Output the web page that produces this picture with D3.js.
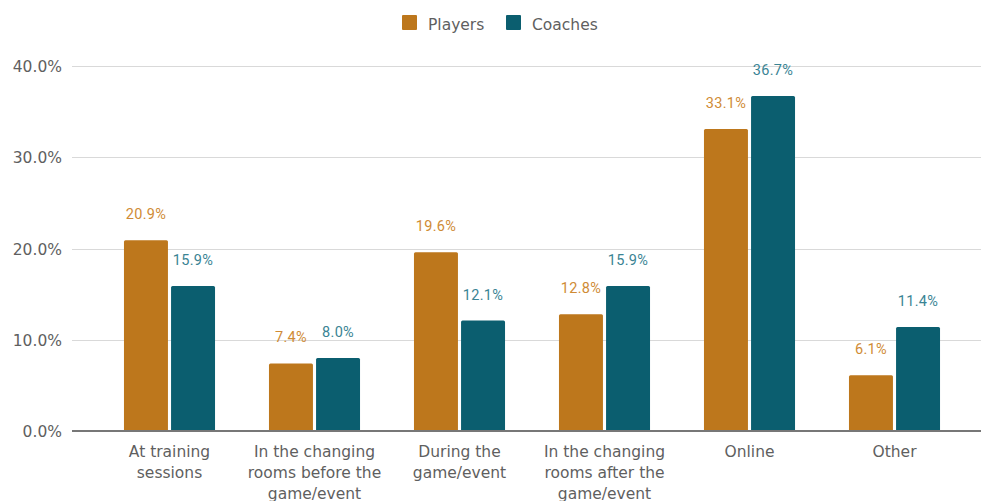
<!DOCTYPE html>
<html><head><meta charset="utf-8">
<script src="https://cdn.jsdelivr.net/npm/d3@7"></script>
<style>body{margin:0;background:#fff}svg{display:block}</style>
</head><body>
<svg id="c" width="981" height="501"></svg>
<script>
const categories = [
  ["At training", "sessions"],
  ["In the changing", "rooms before the", "game/event"],
  ["During the", "game/event"],
  ["In the changing", "rooms after the", "game/event"],
  ["Online"],
  ["Other"]
];
const seriesNames = ["Players", "Coaches"];
const players = [20.9, 7.4, 19.6, 12.8, 33.1, 6.1];
const coaches = [15.9, 8.0, 12.1, 15.9, 36.7, 11.4];
const yTicks = [0, 10, 20, 30, 40];

const colors = {Players: "#BD771C", Coaches: "#0B5E6F"};
const labelColors = {Players: "#CF8B35", Coaches: "#3A8494"};

const svg = d3.select("#c");
const keys = categories.map((c, i) => i);
const x = d3.scaleBand().domain(keys).range([97, 967]).paddingInner(0.372).paddingOuter(0.186);
const xs = d3.scaleBand().domain(seriesNames).range([0, x.bandwidth()]).paddingInner(0.066);
const y = d3.scaleLinear().domain([0, 40]).range([431, 66]);

// gridlines
svg.append("g").selectAll("line").data(yTicks.filter(t => t > 0)).join("line")
  .attr("x1", 72).attr("x2", 981)
  .attr("y1", d => Math.round(y(d)) + 0.5).attr("y2", d => Math.round(y(d)) + 0.5)
  .attr("stroke", "#d9d9d9").attr("stroke-width", 1);

// y labels
svg.append("g").selectAll("text").data(yTicks).join("text")
  .attr("x", 62).attr("y", d => y(d) + 6)
  .attr("text-anchor", "end")
  .attr("font-family", "DejaVu Sans").attr("font-size", 15.5).attr("fill", "#5f5f5f")
  .text(d => d.toFixed(1) + "%");

const data = keys.map(i => ({i, vals: [{s: "Players", v: players[i]}, {s: "Coaches", v: coaches[i]}]}));

const g = svg.append("g").selectAll("g").data(data).join("g")
  .attr("transform", d => `translate(${x(d.i)},0)`);

g.selectAll("rect").data(d => d.vals).join("rect")
  .attr("x", d => xs(d.s)).attr("width", xs.bandwidth())
  .attr("y", d => y(d.v)).attr("height", d => y(0) - y(d.v))
  .attr("rx", 1.5).attr("fill", d => colors[d.s]);

g.selectAll("text.lbl").data(d => d.vals).join("text").attr("class", "lbl")
  .attr("x", d => xs(d.s) + xs.bandwidth() / 2)
  .attr("y", d => y(d.v) - 21)
  .attr("text-anchor", "middle")
  .attr("font-family", "Roboto").attr("font-size", 14.5).attr("letter-spacing", 0.3)
  .attr("fill", d => labelColors[d.s])
  .text(d => d.v.toFixed(1) + "%");

// baseline
svg.append("line").attr("x1", 72).attr("x2", 981)
  .attr("y1", y(0)).attr("y2", y(0))
  .attr("stroke", "#777").attr("stroke-width", 2);

// category labels
svg.append("g").selectAll("text").data(keys).join("text")
  .attr("text-anchor", "middle")
  .attr("font-family", "DejaVu Sans").attr("font-size", 15.5).attr("fill", "#5f5f5f")
  .attr("transform", i => `translate(${x(i) + x.bandwidth() / 2},457)`)
  .selectAll("tspan").data(i => categories[i]).join("tspan")
  .attr("x", 0).attr("y", (d, j) => j * 21)
  .text(d => d);

// legend
const legendX = [402, 506];
const lg = svg.append("g").selectAll("g").data(seriesNames).join("g")
  .attr("transform", (d, i) => `translate(${legendX[i]},15)`);
lg.append("rect").attr("width", 15).attr("height", 15).attr("rx", 1).attr("fill", d => colors[d]);
lg.append("text").attr("x", 26).attr("y", 14.5)
  .attr("font-family", "DejaVu Sans").attr("font-size", 15.5).attr("fill", "#5f5f5f")
  .text(d => d);
</script>
</body></html>
